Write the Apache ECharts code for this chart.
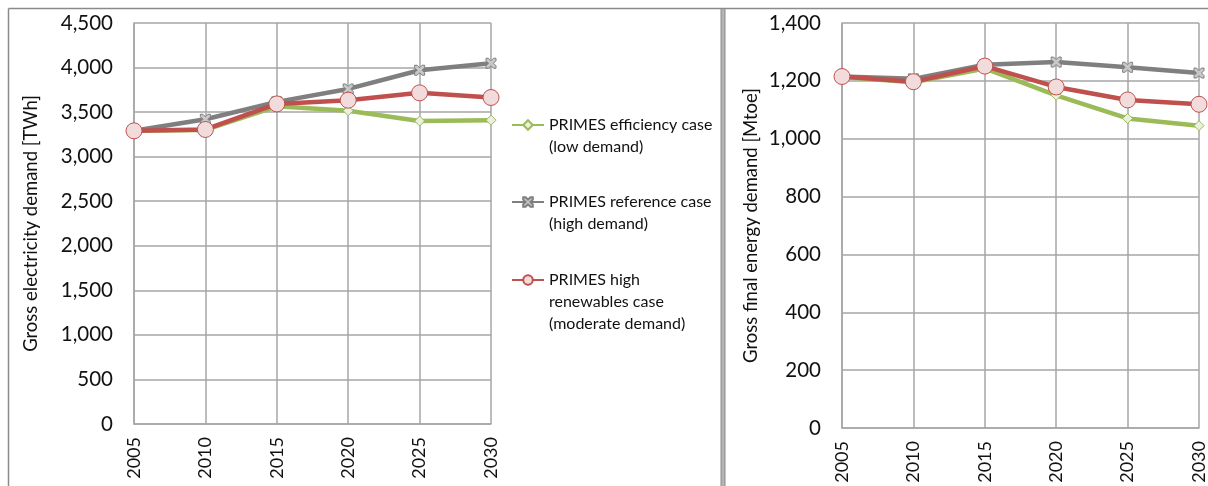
<!DOCTYPE html>
<html>
<head>
<meta charset="utf-8">
<script src="https://cdn.jsdelivr.net/npm/echarts@6/dist/echarts.min.js"></script>
<style>
html,body{margin:0;padding:0;background:#fff;}
#c{width:1208px;height:486px;}
</style>
</head>
<body>
<div id="c"></div>
<script>
const years = ['2005','2010','2015','2020','2025','2030'];
const seriesNames = ['PRIMES efficiency case (low demand)','PRIMES reference case (high demand)','PRIMES high renewables case (moderate demand)'];
const legendLabels = [['PRIMES efficiency case','(low demand)'],['PRIMES reference case','(high demand)'],['PRIMES high','renewables case','(moderate demand)']];
// Gross electricity demand [TWh]
const elecEfficiency = [3290, 3300, 3565, 3515, 3400, 3410];
const elecReference  = [3290, 3420, 3615, 3760, 3970, 4048];
const elecRenewables = [3290, 3305, 3592, 3634, 3716, 3664];
// Gross final energy demand [Mtoe]
const energyEfficiency = [1213, 1195, 1243, 1150, 1070, 1045];
const energyReference  = [1215, 1207, 1256, 1265, 1247, 1227];
const energyRenewables = [1215, 1197, 1251, 1179, 1134, 1119];
const elecTicks = {min:0, max:4500, interval:500};
const energyTicks = {min:0, max:1400, interval:200};

const FONT = 'Lato';
const GRID = '#a6a6a6';
const colors = ['#9bbb59','#7f7f7f','#c0504d'];
const xPath = 'path://M0,0 L2.5,0 L5,2.5 L7.5,0 L10,0 L10,2.5 L7.5,5 L10,7.5 L10,10 L7.5,10 L5,7.5 L2.5,10 L0,10 L0,7.5 L2.5,5 L0,2.5 Z';
const symbols = [
  {symbol:'diamond', symbolSize:10, itemStyle:{color:'#ebf1de', borderColor:'#9bbb59', borderWidth:1}},
  {symbol:xPath, symbolSize:10, itemStyle:{color:'#c8c8c8', borderColor:'#7f7f7f', borderWidth:1}},
  {symbol:'circle', symbolSize:16, itemStyle:{color:'#f2dcdb', borderColor:'#c0504d', borderWidth:1}}
];

function mkSeries(name, data, i, gi){
  return Object.assign({
    type:'line', name:name, data:data, xAxisIndex:gi, yAxisIndex:gi,
    showAllSymbol:true, z: 2+i,
    lineStyle:{color:colors[i], width:4.5},
    emphasis:{disabled:true}
  }, symbols[i]);
}

function xAx(gi){
  return {type:'category', gridIndex:gi, data:years, boundaryGap:false,
    axisLine:{lineStyle:{color:GRID, width:1.5}}, axisTick:{show:false},
    splitLine:{show:true, lineStyle:{color:GRID, width:1.5}},
    axisLabel:{rotate:90, margin:13, fontFamily:FONT, fontSize:18, color:'#111', interval:0}};
}
function yAx(gi, t, name, gap){
  return {type:'value', gridIndex:gi, min:t.min, max:t.max, interval:t.interval,
    name:name, nameLocation:'middle', nameGap:gap,
    nameTextStyle:{fontFamily:FONT, fontSize:18.5, color:'#111'},
    axisLine:{show:true, lineStyle:{color:GRID, width:1.5}}, axisTick:{show:false},
    splitLine:{show:true, lineStyle:{color:GRID, width:1.5}},
    axisLabel:{margin:21, fontFamily:FONT, fontSize:20.5, color:'#111',
      formatter:function(v){return v.toLocaleString('en-US');}}};
}

// icon centre y for each legend entry; text top-aligned to icon via leading blank lines
const legendIconY = [125, 202, 280];
const LH = 22;
const legends = seriesNames.map(function(n,i){
  const lines = legendLabels[i];
  const blanks = lines.length - 1;
  const total = blanks + lines.length;
  const txt = new Array(blanks).fill(' ').concat(lines).join('\n');
  return {data:[n], left:511, top:legendIconY[i] - total*LH/2, padding:0, itemWidth:32, itemHeight:12,
    selectedMode:false,
    formatter:function(){return txt;},
    textStyle:{fontFamily:FONT, fontSize:16, color:'#111', lineHeight:LH}};
});

const chart = echarts.init(document.getElementById('c'), null, {renderer:'canvas'});
chart.setOption({
  animation:false,
  backgroundColor:'#fff',
  legend: legends,
  grid:[
    {left:134, top:23, width:357, height:401, containLabel:false},
    {left:842, top:23, width:363, height:405, containLabel:false}
  ],
  xAxis:[xAx(0), xAx(1)],
  yAxis:[yAx(0, elecTicks, 'Gross electricity demand [TWh]', 93), yAx(1, energyTicks, 'Gross final energy demand [Mtoe]', 81)],
  series:[
    mkSeries(seriesNames[0], elecEfficiency, 0, 0),
    mkSeries(seriesNames[1], elecReference, 1, 0),
    mkSeries(seriesNames[2], elecRenewables, 2, 0),
    mkSeries(seriesNames[0], energyEfficiency, 0, 1),
    mkSeries(seriesNames[1], energyReference, 1, 1),
    mkSeries(seriesNames[2], energyRenewables, 2, 1)
  ],
  graphic:[
    {type:'line', shape:{x1:8.5, y1:8.5, x2:1208, y2:8.5}, style:{stroke:'#8a8a8a', lineWidth:1.5}, silent:true},
    {type:'line', shape:{x1:8.5, y1:8.5, x2:8.5, y2:486}, style:{stroke:'#8a8a8a', lineWidth:1.5}, silent:true},
    {type:'rect', shape:{x:721, y:8.5, width:4, height:478}, style:{fill:'#b4b4b4', stroke:'#8a8a8a', lineWidth:1}, silent:true}
  ]
});
</script>
</body>
</html>
